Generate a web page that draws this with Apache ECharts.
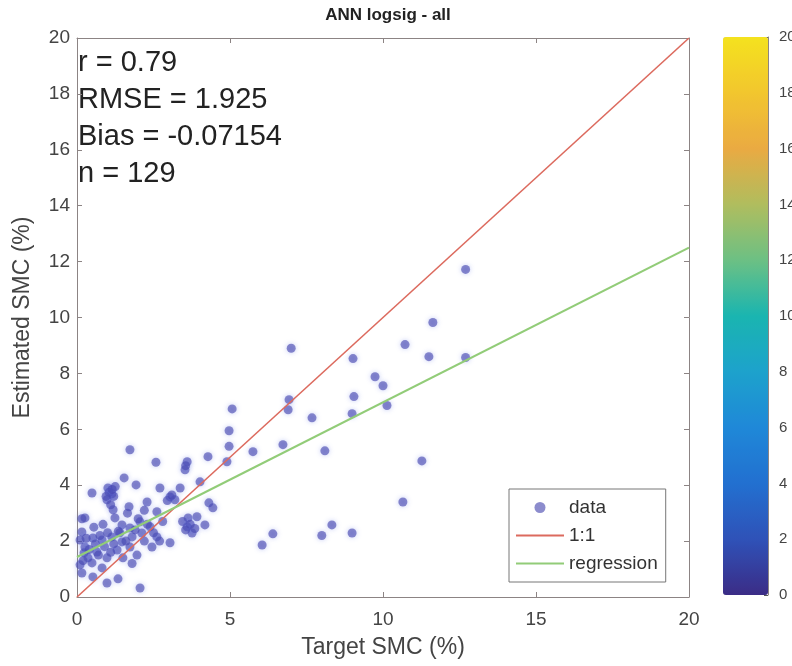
<!DOCTYPE html>
<html>
<head>
<meta charset="utf-8">
<title>ANN logsig - all</title>
<script src="https://cdn.jsdelivr.net/npm/echarts@6/dist/echarts.min.js"></script>
<style>
    html, body { margin: 0; padding: 0; background: #fff; }
    #main { width: 792px; height: 666px; }
</style>
</head>
<body>
<div id="main"></div>
<script>
    // target / estimated SMC (%)
    var targetSMC = [
        12.7, 11.63, 10.72, 9.02, 11.5, 12.7, 9.74, 10.0, 9.05, 10.13, 8.99, 8.1, 11.27, 10.65, 8.33, 8.0, 8.99,
        7.0, 6.93, 6.9, 7.68, 6.73, 6.4,
        5.07, 4.97, 4.97, 5.75, 4.28, 4.9, 3.6, 3.53, 4.02, 3.37, 4.31, 4.44, 3.63, 3.92, 3.6, 4.18, 3.76, 6.05,
        1.73, 2.58, 1.54, 1.93, 0.49, 1.01, 1.14, 0.98, 2.71, 2.29, 1.7, 3.04, 3.2, 1.18, 0.26, 1.24, 2.61,
        2.06, 2.39, 1.73, 1.47, 0.16, 0.52, 0.82, 1.14, 1.47, 1.8, 2.12, 2.61, 3.04, 2.45, 1.73, 0.65, 1.31,
        1.96, 0.36, 0.98, 0.49, 0.82, 0.16, 0.52, 1.34, 0.98, 2.06, 0.23, 0.1, 0.26, 0.16, 0.1,
        1.05, 1.2, 0.95, 1.1, 1.25, 1.15, 3.45, 3.7, 3.55, 3.85, 3.55, 2.95, 3.1,
        0.6, 0.75, 0.9, 1.0, 1.2, 1.4, 1.6, 1.9, 2.2, 2.3, 2.5, 0.4, 0.7, 1.1, 1.5, 0.3, 2.8, 2.0, 0.55,
        1.65, 2.2, 0.85, 1.35, 0.2, 1.8, 2.7
    ];
    var estimatedSMC = [
        11.72, 9.82, 9.03, 8.53, 8.6, 8.57, 7.88, 7.56, 7.17, 6.85, 6.56, 5.23, 4.87, 3.4, 2.58, 2.2, 2.29,
        8.9, 7.06, 6.7, 6.41, 5.45, 2.26,
        6.73, 5.95, 5.39, 5.2, 5.02, 4.84, 4.84, 4.55, 4.12, 3.9, 3.37, 3.19, 2.83, 2.87, 2.51, 2.58, 2.29, 1.86,
        5.27, 4.82, 4.26, 4.01, 3.72, 3.9, 3.69, 3.48, 3.9, 3.4, 3.23, 3.58, 3.48, 3.12, 2.83, 2.83, 3.05,
        2.69, 2.51, 2.47, 2.58, 2.33, 2.11, 2.04, 2.15, 1.97, 2.15, 2.29, 2.15, 1.94, 1.79, 1.79, 1.61, 1.68,
        1.5, 1.4, 1.4, 1.22, 1.04, 0.86, 0.72, 0.65, 0.5, 0.32, 1.58, 1.15, 1.79, 2.8, 2.04,
        3.75, 3.6, 3.6, 3.3, 3.95, 3.85, 2.7, 2.6, 2.4, 2.45, 4.7, 3.45, 3.65,
        1.9, 2.2, 1.8, 2.3, 1.9, 2.3, 2.0, 2.4, 2.0, 2.6, 2.3, 1.7, 1.5, 1.6, 1.4, 2.1, 2.7, 2.8, 2.5,
        3.0, 3.1, 2.6, 2.35, 1.3, 1.2, 2.0
    ];
    var oneToOne = [[0, 0], [20, 20]];
    var regression = [[0, 1.43], [20, 12.5]];
    var statLines = ['r = 0.79', 'RMSE = 1.925', 'Bias = -0.07154', 'n = 129'];
    var colorbarColors = ['#3b2c86', '#2f52b8', '#2270d0', '#1f88d8', '#1da2cc', '#1ab5b0',
        '#6cc084', '#b0bd5e', '#eaaa42', '#f2c62e', '#f4e21e'];

    var points = [];
    for (var i = 0; i < targetSMC.length; i++) {
        points.push([targetSMC[i], estimatedSMC[i]]);
    }

    var axisColor = '#8c8484';
    var font = 'Liberation Sans';
    var labelStyle = {color: '#444', fontSize: 19, fontFamily: font};

    var myChart = echarts.init(document.getElementById('main'), null, {renderer: 'canvas'});
    myChart.setOption({
        animation: false,
        textStyle: {fontFamily: font},
        title: {
            text: 'ANN logsig - all',
            left: 383,
            textAlign: 'center',
            top: 2,
            textStyle: {fontSize: 17, fontWeight: 'bold', color: '#222', fontFamily: font}
        },
        grid: [
            {left: 77, right: 103, top: 38, bottom: 69, outerBoundsMode: 'none'},
            {left: 723, width: 45, top: 37, height: 558, outerBoundsMode: 'none'}
        ],
        legend: {
            orient: 'vertical',
            left: 509,
            top: 489,
            width: 161,
            padding: [8, 8, 8, 6],
            itemGap: 7,
            itemWidth: 48,
            itemHeight: 11,
            borderColor: '#777',
            borderWidth: 1,
            backgroundColor: '#fff',
            textStyle: {fontSize: 19, color: '#333', fontFamily: font, lineHeight: 21},
            data: [
                {name: 'data', icon: 'circle'},
                {name: '1:1', itemStyle: {opacity: 0}},
                {name: 'regression', itemStyle: {opacity: 0}}
            ]
        },
        visualMap: {
            type: 'continuous',
            min: 0,
            max: 20,
            seriesIndex: 3,
            orient: 'vertical',
            left: 723,
            top: 37,
            padding: 0,
            itemWidth: 45,
            itemHeight: 558,
            calculable: false,
            hoverLink: false,
            text: null,
            inRange: {color: colorbarColors}
        },
        xAxis: [
            {
                type: 'value', gridIndex: 0, min: 0, max: 20, interval: 5,
                name: 'Target SMC (%)', nameLocation: 'middle', nameGap: 39,
                nameTextStyle: {fontSize: 23, color: '#444', fontFamily: font},
                axisLine: {onZero: false, lineStyle: {color: axisColor}},
                axisTick: {inside: true, length: 5, lineStyle: {color: axisColor}},
                axisLabel: Object.assign({margin: 13}, labelStyle),
                splitLine: {show: false}
            },
            {
                type: 'value', gridIndex: 0, position: 'top', min: 0, max: 20, interval: 5,
                axisLine: {onZero: false, lineStyle: {color: axisColor}},
                axisTick: {inside: true, length: 5, lineStyle: {color: axisColor}},
                axisLabel: {show: false},
                splitLine: {show: false}
            },
            {type: 'value', gridIndex: 1, min: 0, max: 1, show: false}
        ],
        yAxis: [
            {
                type: 'value', gridIndex: 0, min: 0, max: 20, interval: 2,
                name: 'Estimated SMC (%)', nameLocation: 'middle', nameGap: 43,
                nameTextStyle: {fontSize: 23, color: '#444', fontFamily: font},
                axisLine: {onZero: false, lineStyle: {color: axisColor}},
                axisTick: {inside: true, length: 5, lineStyle: {color: axisColor}},
                axisLabel: Object.assign({margin: 7}, labelStyle),
                splitLine: {show: false}
            },
            {
                type: 'value', gridIndex: 0, position: 'right', min: 0, max: 20, interval: 2,
                axisLine: {onZero: false, lineStyle: {color: axisColor}},
                axisTick: {inside: true, length: 5, lineStyle: {color: axisColor}},
                axisLabel: {show: false},
                splitLine: {show: false}
            },
            {
                // colorbar scale
                type: 'value', gridIndex: 1, position: 'right', min: 0, max: 20, interval: 2,
                axisLine: {show: true, onZero: false, lineStyle: {color: axisColor}},
                axisTick: {inside: true, length: 4, lineStyle: {color: '#555'}},
                axisLabel: {margin: 11, color: '#444', fontSize: 15, fontFamily: font},
                splitLine: {show: false}
            }
        ],
        graphic: [
            {
                type: 'text',
                left: 78,
                top: 44,
                style: {
                    text: statLines.join('\n'),
                    fontSize: 29,
                    lineHeight: 37,
                    fill: '#222',
                    fontFamily: font
                }
            }
        ],
        series: [
            {
                name: 'data',
                type: 'scatter',
                xAxisIndex: 0,
                yAxisIndex: 0,
                symbol: 'circle',
                symbolSize: 9,
                data: points,
                itemStyle: {
                    color: 'rgba(70,70,175,0.78)',
                    shadowBlur: 5,
                    shadowColor: 'rgba(100,120,230,0.6)'
                },
                z: 2
            },
            {
                name: '1:1',
                type: 'line',
                xAxisIndex: 0,
                yAxisIndex: 0,
                symbol: 'none',
                data: oneToOne,
                lineStyle: {color: '#dc6a5e', width: 1.6},
                itemStyle: {color: '#dc6a5e'},
                z: 3
            },
            {
                name: 'regression',
                type: 'line',
                xAxisIndex: 0,
                yAxisIndex: 0,
                symbol: 'none',
                data: regression,
                lineStyle: {color: '#92cc78', width: 2.2},
                itemStyle: {color: '#92cc78'},
                z: 3
            },
            {
                // only here so the visualMap has a series to drive
                name: 'colorbar',
                type: 'scatter',
                xAxisIndex: 2,
                yAxisIndex: 2,
                data: []
            }
        ]
    });
</script>
</body>
</html>
